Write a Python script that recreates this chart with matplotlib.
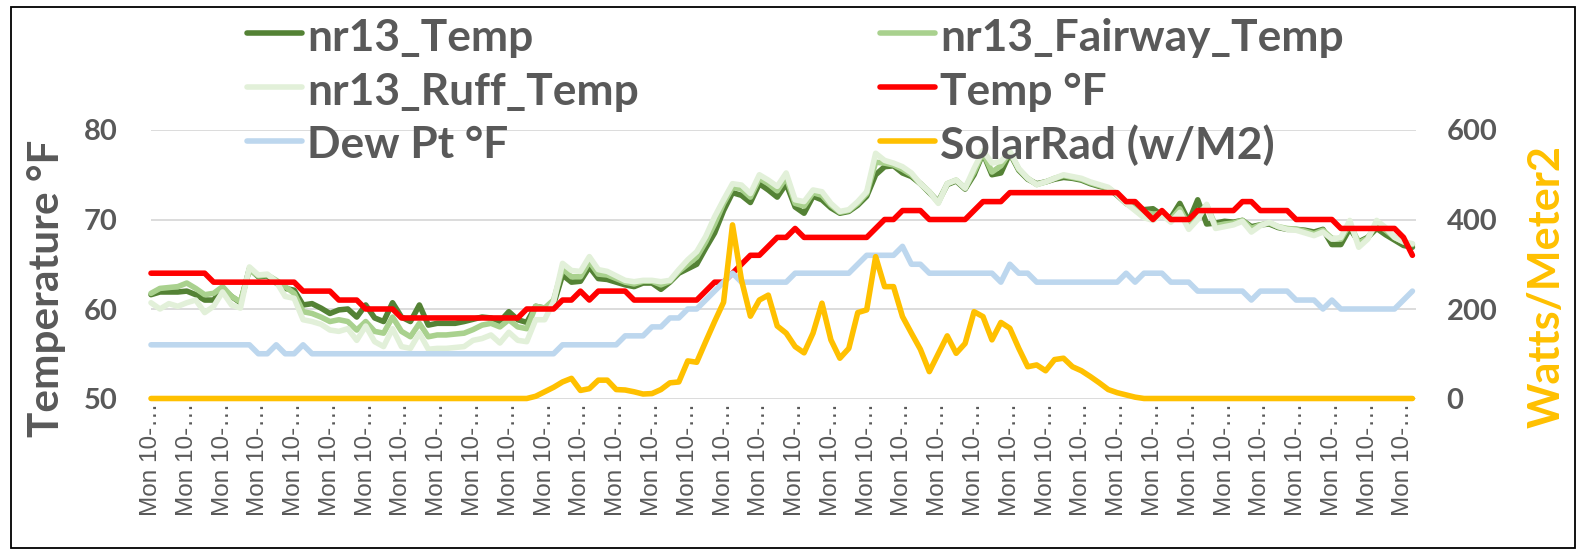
import matplotlib
matplotlib.use("Agg")
import matplotlib.pyplot as plt
from matplotlib.lines import Line2D
from matplotlib.patches import Rectangle

# ---------------- data ----------------
tick_text = "Mon 10-…"
tick_every = 4

nr13_temp = [61.6, 61.9, 61.9, 61.9, 62.0, 61.6, 61.0, 61.0, 62.3, 61.4,
             60.7, 64.5, 63.6, 63.7, 62.9, 62.3, 62.1, 60.45, 60.6, 60.1,
             59.5, 59.9, 60.0, 59.1, 60.45, 59.0, 58.6, 60.7, 59.1, 58.6,
             60.45, 58.2, 58.4, 58.4, 58.4, 58.6, 58.85, 59.1, 59.0, 58.6,
             59.7, 58.8, 58.5, 60.3, 60.1, 60.5, 63.8, 63.0, 63.1, 64.7,
             63.4, 63.3, 63.0, 62.7, 62.5, 62.9, 62.9, 62.2, 63.0, 64.0,
             64.5, 65.0, 66.8, 68.5, 71.0, 73.0, 72.7, 71.9, 74.0, 73.3,
             72.5, 74.0, 71.4, 70.7, 72.6, 72.2, 71.3, 70.7, 70.9, 71.6,
             72.6, 75.0, 75.9, 76.0, 75.2, 74.8, 74.0, 73.0, 72.0, 73.9,
             74.3, 73.4, 75.0, 77.4, 75.0, 75.2, 77.4, 75.5, 74.5, 74.0,
             74.2, 74.5, 74.7, 74.6, 74.4, 74.0, 73.7, 73.5, 72.7, 71.8,
             71.3, 71.1, 71.2, 70.5, 70.2, 71.8, 69.8, 72.2, 69.5, 69.6,
             69.8, 69.7, 69.9, 69.2, 69.4, 69.5, 69.1, 68.9, 68.9, 68.8,
             68.6, 68.9, 67.2, 67.2, 69.0, 67.5, 68.0, 69.0, 68.3, 67.7,
             67.1, 66.9]

nr13_fairway = [61.75, 62.3, 62.4, 62.5, 62.9, 62.3, 61.6, 61.75, 62.5, 61.4,
                60.8, 64.4, 63.7, 63.8, 63.2, 62.5, 61.75, 59.7, 59.5, 59.1,
                58.6, 58.8, 58.6, 57.65, 58.6, 57.5, 57.3, 59.1, 57.5, 56.9,
                58.4, 56.9, 57.1, 57.1, 57.2, 57.3, 57.7, 58.2, 58.4, 58.0,
                58.8, 58.0, 57.8, 60.3, 60.1, 61.0, 64.5, 63.6, 63.6, 65.3,
                63.9, 63.8, 63.4, 63.0, 62.8, 63.1, 63.1, 62.7, 63.1, 64.2,
                65.0, 65.8, 67.5, 69.5, 71.8, 73.6, 73.4, 72.5, 74.6, 74.0,
                73.2, 74.7, 71.8, 71.5, 73.0, 72.7, 71.6, 70.8, 71.0, 71.8,
                72.9, 76.4, 76.3, 76.1, 75.6, 75.0, 74.0, 73.1, 71.9, 74.0,
                74.4, 73.5, 75.3, 77.5, 75.3, 76.0, 77.5, 75.6, 74.6, 73.9,
                74.2, 74.6, 74.9, 74.7, 74.5, 74.1, 73.8, 73.5, 72.8, 71.8,
                71.2, 70.8, 70.6, 70.7, 70.0, 71.2, 69.3, 70.6, 71.6, 69.3,
                69.5, 69.6, 69.9, 69.0, 69.4, 69.6, 69.2, 69.0, 68.9, 68.7,
                68.4, 68.8, 67.9, 67.8, 69.5, 67.4, 67.9, 69.5, 68.8, 68.0,
                67.5, 67.2]

nr13_ruff = [60.7, 60.0, 60.6, 60.3, 60.7, 61.0, 59.6, 60.3, 61.9, 60.45,
             60.1, 64.7, 63.8, 63.9, 63.05, 61.4, 61.2, 58.8, 58.6, 58.3,
             57.65, 57.5, 57.8, 56.5, 58.1, 56.35, 55.8, 57.8, 55.8, 55.6,
             57.3, 55.5, 55.6, 55.6, 55.7, 55.8, 56.5, 56.7, 57.1, 56.2,
             57.4, 56.5, 56.35, 58.8, 58.8, 60.8, 65.1, 64.3, 64.2, 65.85,
             64.4, 64.2, 63.7, 63.2, 63.05, 63.2, 63.2, 63.05, 63.2, 64.4,
             65.5, 66.4, 68.1, 70.3, 72.2, 74.0, 73.85, 72.9, 75.0, 74.4,
             73.7, 75.2, 72.2, 72.0, 73.3, 73.1, 71.8, 70.9, 71.1, 72.0,
             73.1, 77.4, 76.6, 76.3, 75.9, 75.2, 74.0, 73.1, 71.8, 74.0,
             74.4, 73.5, 75.7, 77.7, 76.3, 76.5, 77.6, 75.7, 74.6, 73.9,
             74.2, 74.6, 75.0, 74.8, 74.6, 74.2, 73.9, 73.6, 72.8, 71.8,
             71.0, 70.2, 69.9, 70.5, 69.7, 70.8, 68.9, 70.0, 71.7, 69.0,
             69.2, 69.4, 69.8, 68.6, 69.3, 69.7, 69.2, 68.9, 68.8, 68.5,
             68.2, 68.6, 67.8, 68.0, 69.9, 66.9, 67.8, 69.9, 69.1, 68.0,
             67.5, 67.3]

temp_f = [64, 64, 64, 64, 64, 64, 64, 63, 63, 63,
          63, 63, 63, 63, 63, 63, 63, 62, 62, 62,
          62, 61, 61, 61, 60, 60, 60, 60, 59, 59,
          59, 59, 59, 59, 59, 59, 59, 59, 59, 59,
          59, 59, 60, 60, 60, 60, 61, 61, 62, 61,
          62, 62, 62, 62, 61, 61, 61, 61, 61, 61,
          61, 61, 62, 63, 63, 64, 65, 66, 66, 67,
          68, 68, 69, 68, 68, 68, 68, 68, 68, 68,
          68, 69, 70, 70, 71, 71, 71, 70, 70, 70,
          70, 70, 71, 72, 72, 72, 73, 73, 73, 73,
          73, 73, 73, 73, 73, 73, 73, 73, 73, 72,
          72, 71, 70, 71, 70, 70, 70, 71, 71, 71,
          71, 71, 72, 72, 71, 71, 71, 71, 70, 70,
          70, 70, 70, 69, 69, 69, 69, 69, 69, 69,
          68, 66]

dew_pt = [56, 56, 56, 56, 56, 56, 56, 56, 56, 56,
          56, 56, 55, 55, 56, 55, 55, 56, 55, 55,
          55, 55, 55, 55, 55, 55, 55, 55, 55, 55,
          55, 55, 55, 55, 55, 55, 55, 55, 55, 55,
          55, 55, 55, 55, 55, 55, 56, 56, 56, 56,
          56, 56, 56, 57, 57, 57, 58, 58, 59, 59,
          60, 60, 61, 62, 63, 64, 63, 63, 63, 63,
          63, 63, 64, 64, 64, 64, 64, 64, 64, 65,
          66, 66, 66, 66, 67, 65, 65, 64, 64, 64,
          64, 64, 64, 64, 64, 63, 65, 64, 64, 63,
          63, 63, 63, 63, 63, 63, 63, 63, 63, 64,
          63, 64, 64, 64, 63, 63, 63, 62, 62, 62,
          62, 62, 62, 61, 62, 62, 62, 62, 61, 61,
          61, 60, 61, 60, 60, 60, 60, 60, 60, 60,
          61, 62]

solar_rad = [0, 0, 0, 0, 0, 0, 0, 0, 0, 0,
             0, 0, 0, 0, 0, 0, 0, 0, 0, 0,
             0, 0, 0, 0, 0, 0, 0, 0, 0, 0,
             0, 0, 0, 0, 0, 0, 0, 0, 0, 0,
             0, 0, 0, 5, 15, 25, 37, 45, 18, 22,
             41, 41, 20, 19, 15, 10, 11, 20, 35, 37,
             84, 81, 127, 172, 215, 388, 265, 184, 220, 231,
             162, 146, 116, 102, 146, 213, 131, 90, 112, 192,
             198, 317, 250, 250, 183, 146, 110, 60, 100, 140,
             101, 123, 194, 183, 131, 170, 157, 112, 71, 75,
             62, 87, 90, 71, 62, 49, 35, 20, 13, 8,
             3, 0, 0, 0, 0, 0, 0, 0, 0, 0,
             0, 0, 0, 0, 0, 0, 0, 0, 0, 0,
             0, 0, 0, 0, 0, 0, 0, 0, 0, 0,
             0, 0]

left_ticks = [50, 60, 70, 80]
right_ticks = [0, 200, 400, 600]

series = [
    ("nr13_Temp", nr13_temp, "#548235"),
    ("nr13_Fairway_Temp", nr13_fairway, "#A9D18E"),
    ("nr13_Ruff_Temp", nr13_ruff, "#E2F0D9"),
    ("Temp °F", temp_f, "#FF0000"),
    ("Dew Pt °F", dew_pt, "#BDD7EE"),
]
solar_name, solar_color = "SolarRad (w/M2)", "#FFC000"

# ---------------- layout ----------------
W, H = 1580, 549
GRAY = "#595959"
BOLD_FONT = ["Lato", "DejaVu Sans"]
LW = 4.0

fig = plt.figure(figsize=(W / 100, H / 100), dpi=100)
fig.patch.set_facecolor("white")

L, R, T, B = 151, 1416, 130, 398.5
ax = fig.add_axes([L / W, 1 - B / H, (R - L) / W, (B - T) / H])
ax2 = ax.twinx()

x = list(range(len(temp_f)))
for name, vals, col in series:
    ax.plot(x, vals, color=col, lw=LW, solid_capstyle="round",
            solid_joinstyle="round", clip_on=False, label=name)
ax2.plot(x, solar_rad, color=solar_color, lw=LW, solid_capstyle="round",
         solid_joinstyle="round", clip_on=False, label=solar_name)

ax.set_xlim(0, 141.4)
ax.set_ylim(50, 80)
ax2.set_ylim(0, 600)

ax.set_yticks(left_ticks, [str(v) for v in left_ticks], fontsize=21,
              fontweight="bold", family=BOLD_FONT, color=GRAY)
ax2.set_yticks(right_ticks, [str(v) for v in right_ticks], fontsize=21,
               fontweight="bold", family=BOLD_FONT, color=GRAY)
tick_pos = x[::tick_every]
ax.set_xticks(tick_pos, [tick_text] * len(tick_pos), rotation=90,
              fontsize=17.5, family=["Liberation Sans", "DejaVu Sans"], color=GRAY)

ax.tick_params(axis="y", length=0, pad=24)
ax2.tick_params(axis="y", length=0, pad=22)
ax.tick_params(axis="x", length=0, pad=3)
ax.grid(axis="y", color="#D9D9D9", lw=1.3)
ax.set_axisbelow(True)
for a in (ax, ax2):
    for s in a.spines.values():
        s.set_visible(False)

# axis titles
ylab = fig.text(47 / W, 1 - 288 / H, "Temperature °F", rotation=90,
                ha="center", va="center", fontsize=30, fontweight="bold",
                family=BOLD_FONT, color=GRAY)
y2lab = fig.text(1547 / W, 1 - 286 / H, "Watts/Meter2", rotation=90,
                 ha="center", va="center", fontsize=30, fontweight="bold",
                 family=BOLD_FONT, color=solar_color)

# legend (two columns, three rows)
entries = [
    (series[0][0], series[0][2], 247, 33),
    (series[2][0], series[2][2], 247, 87),
    (series[4][0], series[4][2], 247, 141),
    (series[1][0], series[1][2], 880, 33),
    (series[3][0], series[3][2], 880, 87),
    (solar_name, solar_color, 880, 141),
]
leg_texts = []
for name, col, x0, yc in entries:
    fig.add_artist(Line2D([x0 / W, (x0 + 55) / W], [1 - yc / H, 1 - yc / H],
                          transform=fig.transFigure, color=col, lw=LW,
                          solid_capstyle="round"))
    t = fig.text((x0 + 60) / W, 1 - (yc + 1) / H, name, ha="left",
                 va="center_baseline", fontsize=30, fontweight="bold",
                 family=BOLD_FONT, color=GRAY)
    leg_texts.append(t)

# fit text sizes to the reference's measured extents
fig.canvas.draw()
rend = fig.canvas.get_renderer()


def fit(texts, ref, target, use_height=False):
    bb = ref.get_window_extent(rend)
    cur = bb.height if use_height else bb.width
    size = ref.get_fontsize() * target / cur
    for t in texts:
        t.set_fontsize(size)


fit(leg_texts, leg_texts[3], 403)
fit([ylab], ylab, 296, use_height=True)
fit([y2lab], y2lab, 283, use_height=True)

# outer chart border
fig.add_artist(Rectangle((11 / W, 1 - 548 / H), (1575 - 11) / W, (548 - 7) / H,
                         transform=fig.transFigure, fill=False,
                         ec="#000000", lw=1.3))

fig.savefig("out.png", dpi=100, facecolor="white")
